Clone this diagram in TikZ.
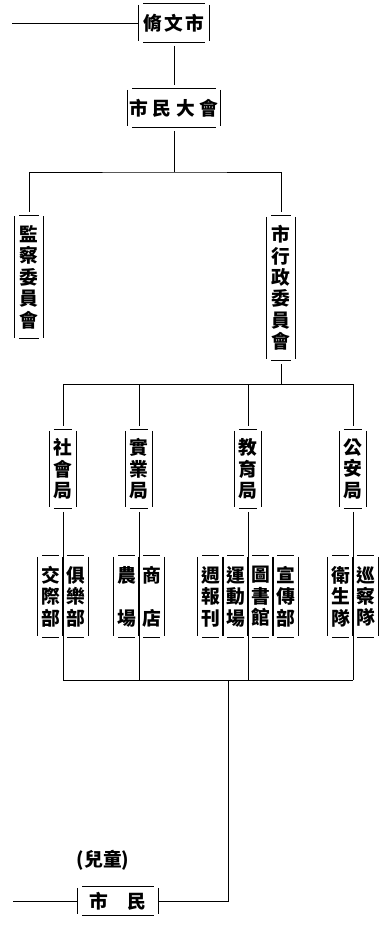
\documentclass[tikz,border=0pt]{standalone}
\usepackage{fontspec}
\newfontfamily\cjk{Noto Sans CJK TC}[BoldFont={Noto Sans CJK TC Black}]
\begin{document}
\begin{tikzpicture}[x=0.03cm,y=-0.03cm,
  lab/.style={font=\cjk\bfseries\fontsize{16pt}{18.3pt}\selectfont,inner sep=0pt,align=center},
  hbox/.style={lab,minimum height=1.15cm},
  vbox/.style={lab,minimum width=0.84cm},
  subbox/.style={lab,minimum width=0.75cm,minimum height=2.43cm},
  bureau/.style={vbox,minimum width=0.81cm,minimum height=2.34cm},
  frame/.style={line width=1.2pt},
  link/.style={line width=0.6pt}]
\useasboundingbox (0,0) rectangle (379,927);
% top of the chart
\node[hbox,minimum width=2.1cm] (wen) at (174,23) {脩\hspace{2pt}文\hspace{2pt}市};
\node[hbox,minimum width=2.76cm] (dahui) at (174,108) {市\hspace{4pt}民\hspace{4pt}大\hspace{4pt}會};
\node[vbox,minimum height=3.69cm] (jiancha) at (29,277) {監\\察\\委\\員\\會};
\node[vbox,minimum height=4.32cm] (xingzheng) at (281,288) {市\\行\\政\\委\\員\\會};
% bureaus
\node[bureau] (shehui) at (63,469) {社\\會\\局};
\node[bureau] (shiye) at (139,469) {實\\業\\局};
\node[bureau] (jiaoyu) at (248,469) {教\\育\\局};
\node[bureau] (gongan) at (353,469) {公\\安\\局};
% sections
\node[subbox] (jiaoji) at (50.5,596.5) {交\\際\\部};
\node[subbox] (julebu) at (75.5,596.5) {俱\\樂\\部};
\node[subbox] (nongchang) at (126.5,596.5) {農\\[18.3pt]場};
\node[subbox] (shangdian) at (151.5,596.5) {商\\[18.3pt]店};
\node[subbox] (zhoubao) at (210.5,596.5) {週\\報\\刊};
\node[subbox] (yundong) at (235.5,596.5) {運\\動\\場};
\node[subbox] (tushu) at (260.5,596.5) {圖\\書\\館};
\node[subbox] (xuanchuan) at (285.5,596.5) {宣\\傳\\部};
\node[subbox] (weisheng) at (340.5,596.5) {衛\\生\\隊};
\node[subbox] (xuncha) at (365.5,596.5) {巡\\察\\隊};
% citizens
\node[lab] (ertong) at (103,860) {(兒童)};
\node[lab,minimum width=2.4cm,minimum height=0.84cm] (shimin) at (118,901) {市\hspace{1em}民};
% open frames round the boxes
\foreach \n in {wen,dahui,jiancha,xingzheng,shehui,shiye,jiaoyu,gongan,jiaoji,julebu,nongchang,shangdian,zhoubao,yundong,tushu,xuanchuan,weisheng,xuncha,shimin}
{
\draw[frame] ([xshift=4pt]\n.north west) -- ([xshift=-4pt]\n.north east)
  ([xshift=4pt]\n.south west) -- ([xshift=-4pt]\n.south east);
\draw[frame] ([yshift=-1pt]\n.north west) -- ([yshift=1pt]\n.south west)
  ([yshift=-1pt]\n.north east) -- ([yshift=1pt]\n.south east);
}
% connectors
\coordinate (wenfar) at (12,23);
\coordinate (bus1) at (174,172);
\coordinate (bus2) at (200,384);
\coordinate (bus3) at (228,680);
\coordinate (shiminfar) at (13,901);
\draw[link] (wenfar) -- (wen.west);
\draw[link,shorten <=3pt,shorten >=3pt] (wen) -- (dahui);
\draw[link,shorten <=3pt] (dahui.south) -- (bus1);
\draw[link,shorten <=3pt,shorten >=3pt] (jiancha.north) |- (bus1) -| (xingzheng.north);
\draw[link,shorten <=3pt] (xingzheng.south) -- (xingzheng.south |- bus2);
\draw[link] (shehui.north |- bus2) -- (gongan.north |- bus2);
\foreach \n in {shehui,shiye,jiaoyu,gongan}
{
\draw[link,shorten >=3pt] (\n.north |- bus2) -- (\n.north);
\draw[link,shorten <=3pt] (\n.south) -- (\n.south |- bus3);
}
\draw[link] (shehui.south |- bus3) -- (gongan.south |- bus3);
\draw[link] (bus3) |- (shimin.east);
\draw[link] (shiminfar) -- (shimin.west);
\end{tikzpicture}
\end{document}
